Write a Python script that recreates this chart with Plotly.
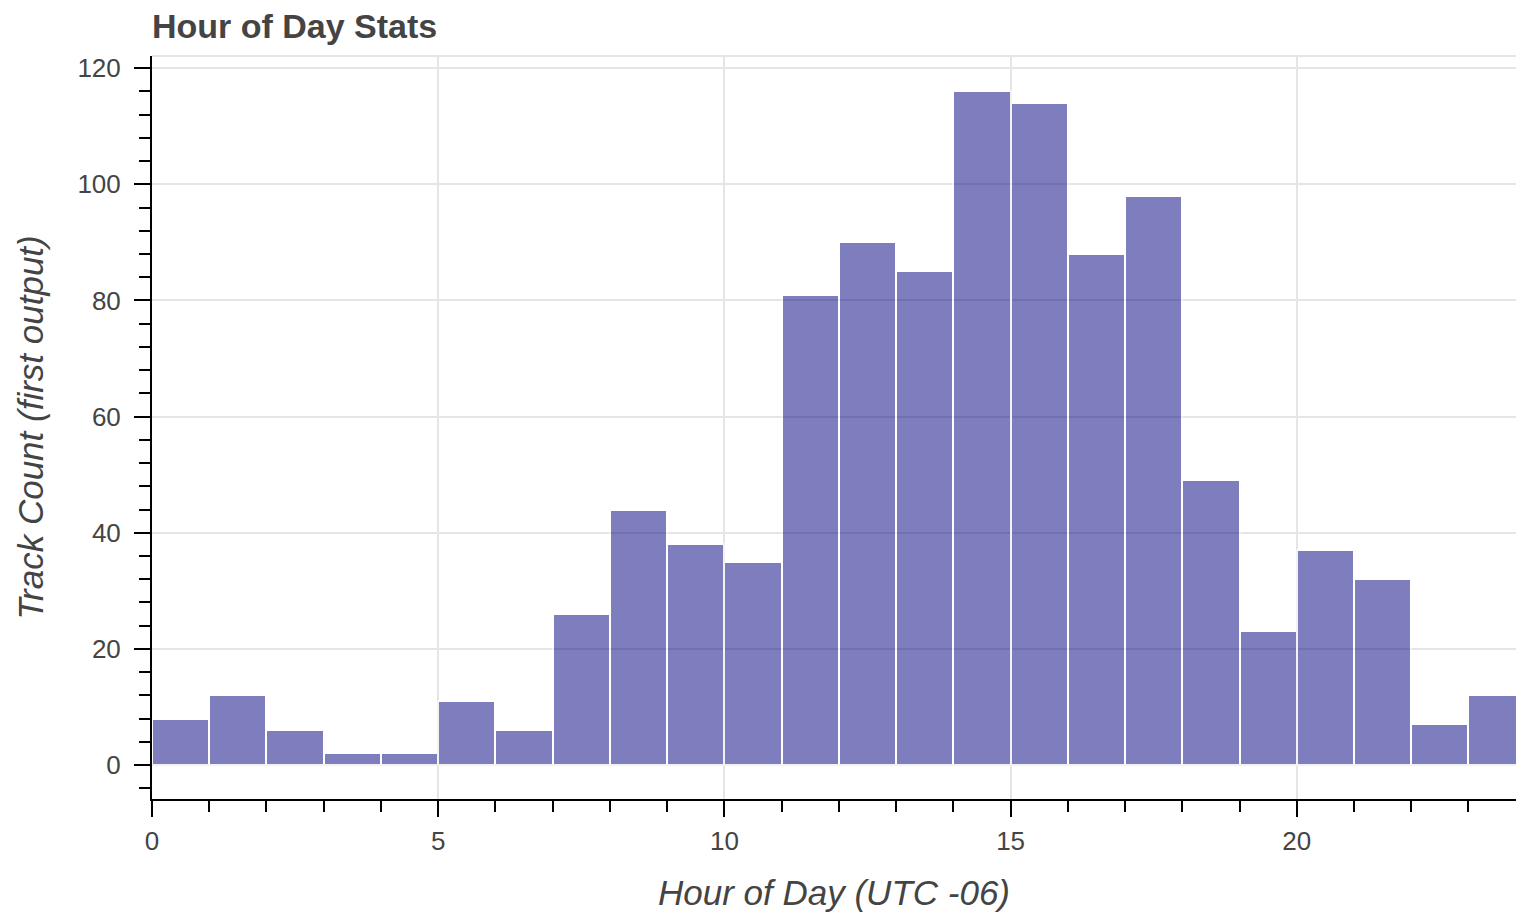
import plotly.graph_objects as go

# Data: hourly bins (left edges) and track counts
hour_bins = list(range(24))
track_counts = [8, 12, 6, 2, 2, 11, 6, 26, 44, 38, 35, 81, 90, 85, 116, 114, 88, 98, 49, 23, 37, 32, 7, 12]

title_text = "Hour of Day Stats"
x_title = "Hour of Day (UTC -06)"
y_title = "Track Count (first output)"

FONT = "Liberation Sans, Arial, Helvetica, sans-serif"

W, H = 1516, 914

fig = go.Figure()
fig.add_trace(go.Bar(
    x=hour_bins,
    y=track_counts,
    width=1,
    offset=0,
    marker=dict(color="navy", line=dict(color="white", width=2)),
    opacity=0.5,
    showlegend=False,
))

axis_common = dict(
    showline=True, linecolor="black", linewidth=2,
    ticks="outside", ticklen=16, tickwidth=2, tickcolor="black",
    showgrid=True, gridcolor="#e5e5e5", gridwidth=2,
    zeroline=False,
    tickfont=dict(family=FONT, size=26, color="#444444"),
)

fig.update_layout(
    width=W, height=H,
    margin=dict(l=152, r=0, t=56, b=115, pad=0),
    paper_bgcolor="white", plot_bgcolor="white",
    bargap=0,
    title=dict(
        text="<b>" + title_text + "</b>",
        font=dict(family=FONT, size=34, color="#444444"),
        x=0, xref="paper", xanchor="left",
        y=1 - 26 / H, yref="container", yanchor="middle",
        pad=dict(l=0, t=0, b=0, r=0),
    ),
    xaxis=dict(
        **axis_common,
        range=[0, 23.83],
        tickmode="linear", tick0=0, dtick=5,
        ticklabelstandoff=2,
        minor=dict(dtick=1, tick0=0, ticks="outside", ticklen=11, tickwidth=2, tickcolor="black", showgrid=False),
        title=dict(text="<i>" + x_title + "</i>", font=dict(family=FONT, size=35, color="#444444"), standoff=25),
    ),
    yaxis=dict(
        **axis_common,
        range=[-5.85, 122.1],
        tickmode="linear", tick0=0, dtick=20,
        ticklabelstandoff=8,
        minor=dict(dtick=4, tick0=0, ticks="outside", ticklen=11, tickwidth=2, tickcolor="black", showgrid=False),
        title=dict(text="<i>" + y_title + "</i>", font=dict(family=FONT, size=35, color="#444444"), standoff=23),
    ),
    shapes=[dict(type="line", xref="paper", yref="paper", x0=0, x1=1, y0=1, y1=1,
                 line=dict(color="#e5e5e5", width=2), layer="below")],
)

fig.write_html(
    "out.html",
    config={"displayModeBar": False},
    post_script="document.body.style.margin='0';document.body.style.overflow='hidden';",
)
